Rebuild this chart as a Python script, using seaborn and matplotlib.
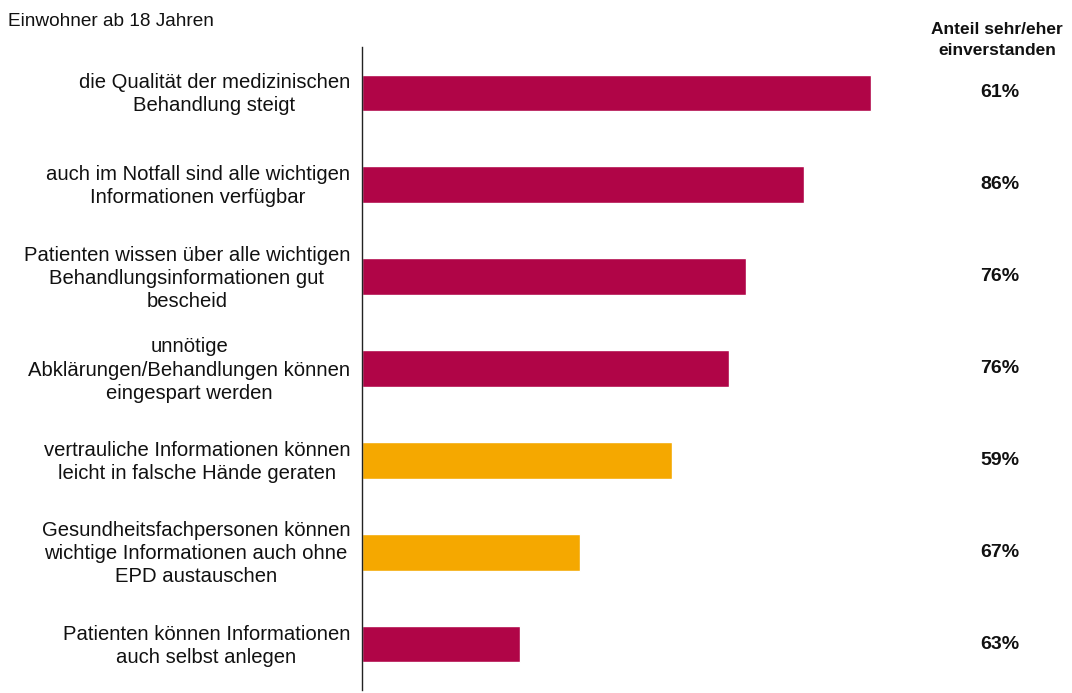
import matplotlib
matplotlib.use("Agg")
import matplotlib.pyplot as plt
import matplotlib.transforms as mtransforms
import seaborn as sns
import pandas as pd

categories = [
    "die Qualität der medizinischen\nBehandlung steigt",
    "auch im Notfall sind alle wichtigen\nInformationen verfügbar",
    "Patienten wissen über alle wichtigen\nBehandlungsinformationen gut\nbescheid",
    "unnötige\nAbklärungen/Behandlungen können\neingespart werden",
    "vertrauliche Informationen können\nleicht in falsche Hände geraten",
    "Gesundheitsfachpersonen können\nwichtige Informationen auch ohne\nEPD austauschen",
    "Patienten können Informationen\nauch selbst anlegen",
]
values = [94.6, 82.2, 71.4, 68.2, 57.6, 40.5, 29.4]
groups = ["pro", "pro", "pro", "pro", "contra", "contra", "pro"]
shares = ["61%", "86%", "76%", "76%", "59%", "67%", "63%"]
palette = {"pro": "#B00547", "contra": "#F5A800"}

sns.set_theme(style="white")
plt.rcParams["font.family"] = ["Liberation Sans", "DejaVu Sans"]

df = pd.DataFrame({"cat": categories, "val": values, "grp": groups})

fig = plt.figure(figsize=(10.72, 6.93), dpi=100)
ax = fig.add_axes([362 / 1072, 3 / 693, 538 / 1072, 643 / 693])
sns.barplot(data=df, x="val", y="cat", hue="grp", palette=palette,
            dodge=False, width=0.4, legend=False, ax=ax, saturation=1)
ax.set_xlim(0, 100)
ax.set_ylim(6.5, -0.5)
ax.set_xlabel("")
ax.set_ylabel("")
ax.set_xticks([])
for s in ["top", "right", "bottom"]:
    ax.spines[s].set_visible(False)
ax.spines["left"].set_color("#222222")
ax.spines["left"].set_linewidth(1.0)
ax.tick_params(axis="y", length=0, pad=8.5, labelsize=14.6, labelcolor="#111111")
offset = mtransforms.ScaledTranslation(0, 2.5 / 100, fig.dpi_scale_trans)
for t in ax.get_yticklabels():
    t.set_multialignment("center")
    t.set_linespacing(1.27)
    t.set_transform(t.get_transform() + offset)

for i, s in enumerate(shares):
    ax.text(1.186, i, s, transform=ax.get_yaxis_transform(), ha="center",
            va="center", fontsize=14, fontweight="bold", color="#111111")

fig.text(997 / 1072, 1 - 40 / 693, "Anteil sehr/eher\neinverstanden", ha="center",
         va="center", fontsize=12.5, fontweight="bold", color="#111111", linespacing=1.45)
fig.text(8 / 1072, 1 - 22 / 693, "Einwohner ab 18 Jahren", ha="left", va="center",
         fontsize=13.7, color="#111111")

fig.savefig("out.png", dpi=100)
